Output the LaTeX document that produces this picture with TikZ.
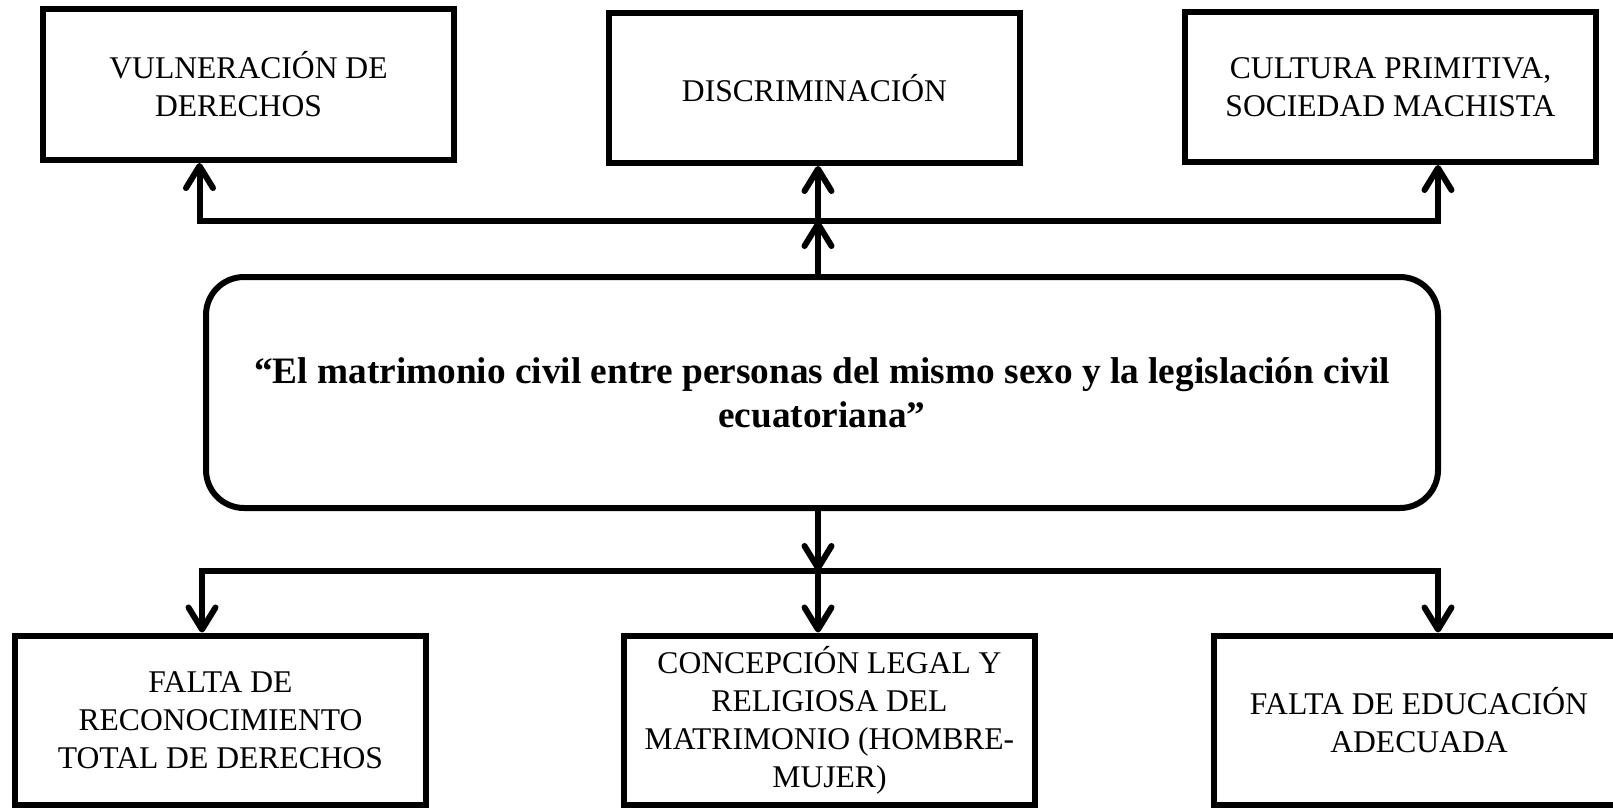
\documentclass[tikz,border=0pt]{standalone}
\usepackage{fontspec}
\setmainfont{Liberation Serif}
\usetikzlibrary{arrows.meta}
\begin{document}
\begin{tikzpicture}[x=1pt,y=-1pt,
  boxstyle/.style={draw, line width=6pt, inner sep=0pt, align=center,
    font=\fontsize{31.6}{38}\selectfont, minimum width=411pt},
  mainstyle/.style={draw, line width=6pt, rounded corners=38pt, inner sep=0pt, align=center,
    font=\bfseries\fontsize{37.3}{44}\selectfont, minimum width=1232pt, minimum height=231pt},
  conn/.style={line width=6pt, line join=miter},
  arr/.style={conn, -{Straight Barb[length=22pt,width=27pt,round]}}
]
\useasboundingbox (0,0) rectangle (1613,809);

% top boxes
\node[boxstyle, minimum height=151pt] (b1) at (248.5,84.5) {VULNERACIÓN DE\\DERECHOS\hspace*{20pt}};
\node[boxstyle, minimum height=150pt] (b2) at (814.5,88) {DISCRIMINACIÓN};
\node[boxstyle, minimum height=150pt] (b3) at (1390.5,87) {CULTURA PRIMITIVA,\\SOCIEDAD MACHISTA};

% main box
\node[mainstyle] (main) at (822,392.5) {“El matrimonio civil entre personas del mismo sexo y la legislación civil\\ecuatoriana”};

% bottom boxes
\node[boxstyle, minimum height=169pt] (b4) at (220.5,720) {FALTA DE\\RECONOCIMIENTO\\TOTAL DE DERECHOS};
\node[boxstyle, minimum height=169pt] (b5) at (829.5,720) {CONCEPCIÓN LEGAL Y\\RELIGIOSA DEL\\MATRIMONIO (HOMBRE-\\MUJER)};
\node[boxstyle, minimum height=169pt, minimum width=410pt] (b6) at (1419,720) {FALTA DE EDUCACIÓN\\ADECUADA};

% junction coordinates
\coordinate (tl) at (199.5,221);
\coordinate (tm) at (818,221);
\coordinate (tr) at (1438,221);
\coordinate (bl) at (202,571);
\coordinate (bm) at (818,571);
\coordinate (br) at (1438,571);

% top connectors
\draw[arr] (tm |- main.north) -- (tm);
\draw[arr] (tm) -- (tl) -- (tl |- b1.south);
\draw[arr] (tm) -- (tr) -- (tr |- b3.south);
\draw[arr] (tm) -- (tm |- b2.south);

% bottom connectors
\draw[arr] (bm |- main.south) -- (bm);
\draw[arr] (bm) -- (bl) -- (bl |- b4.north);
\draw[arr] (bm) -- (br) -- (br |- b6.north);
\draw[arr] (bm) -- (bm |- b5.north);
\end{tikzpicture}
\end{document}
